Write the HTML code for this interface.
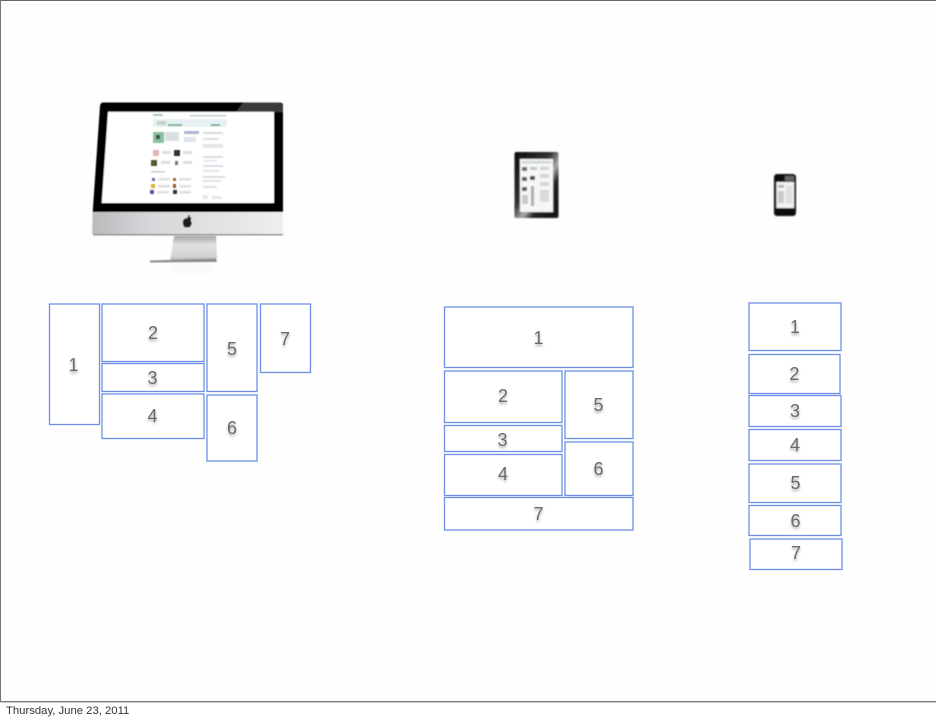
<!DOCTYPE html>
<html>
<head>
<meta charset="utf-8">
<style>
html,body{margin:0;padding:0;background:#fff}
body{width:936px;height:720px;overflow:hidden;position:relative}
svg{position:absolute;left:0;top:0}
.n{font-family:"Liberation Sans",sans-serif;font-size:18px;fill:#6a6a6a;text-anchor:middle}
.f{font-family:"Liberation Sans",sans-serif;font-size:11.3px;fill:#333}
.b rect{fill:#fff;stroke:#6f8fe6;stroke-width:1.3}
</style>
</head>
<body>
<svg width="936" height="720" viewBox="0 0 936 720" xmlns="http://www.w3.org/2000/svg">
<defs>
<filter id="b1" x="-10%" y="-10%" width="120%" height="120%"><feGaussianBlur stdDeviation="0.45"/></filter>
<filter id="b3" x="-10%" y="-10%" width="120%" height="120%"><feGaussianBlur stdDeviation="0.6"/></filter>
<filter id="b2" x="-20%" y="-20%" width="140%" height="140%"><feGaussianBlur stdDeviation="0.7"/></filter>
<filter id="ts" x="-50%" y="-50%" width="200%" height="200%"><feDropShadow dx="0" dy="2" stdDeviation="1.2" flood-color="#000" flood-opacity="0.35"/></filter>
<linearGradient id="silver" x1="0" y1="0" x2="1" y2="0"><stop offset="0" stop-color="#b9babc"/><stop offset=".3" stop-color="#d6d7d9"/><stop offset=".7" stop-color="#e4e4e6"/><stop offset="1" stop-color="#efeff0"/></linearGradient>
<linearGradient id="stand" x1="0" y1="0" x2="0" y2="1"><stop offset="0" stop-color="#a5a6a8"/><stop offset=".35" stop-color="#e2e2e4"/><stop offset=".8" stop-color="#d2d2d4"/><stop offset="1" stop-color="#a0a0a2"/></linearGradient>
<linearGradient id="tab" x1="0" y1="0" x2="1" y2="1"><stop offset="0" stop-color="#0a0a0a"/><stop offset=".42" stop-color="#333"/><stop offset=".58" stop-color="#aaa"/><stop offset=".7" stop-color="#222"/><stop offset="1" stop-color="#111"/></linearGradient>
</defs>

<rect width="936" height="720" fill="#fff"/>
<rect x="0" y="0" width="936" height="702" fill="#fefefe"/>
<rect x="0" y="0" width="936" height="1" fill="#666"/>
<rect x="0" y="0" width="1" height="702" fill="#777"/>
<rect x="0" y="701" width="936" height="1.4" fill="#7d7d7d"/>
<text class="f" x="6" y="714">Thursday, June 23, 2011</text>

<!-- iMac -->
<g filter="url(#b1)">
<polygon points="174,236 216,236 217,258 214,262 170,262" fill="url(#stand)"/>
<polygon points="150,260.5 216,258.5 217,262 150,262.5" fill="#8d8e90"/>
<polygon points="170,263 214,263 212,274 174,274" fill="#fafafa"/>
<path d="M103,102.5 H280 Q283,102.5 283,106 V212 H92.7 L100,106 Q100.5,102.5 103,102.5 Z" fill="#060606"/>
<polygon points="243,102.5 280,102.5 283,106 283,112 236,112" fill="#3a3a3a"/>
<polygon points="108,111.7 274,111.7 274,203 101.7,203" fill="#fff"/>
<path d="M92.7,212 H283 V232 Q283,235 280,235 H95 Q92,235 92.2,232 Z" fill="url(#silver)"/>
<rect x="93" y="234" width="190" height="1.4" fill="#8a8a8c"/>
<path d="M187.5,218 C189,216.5 190,217 191.5,217.5 C190.7,219 190.5,221.5 192,223 C191.5,225 190,227.5 188.5,227.5 C187.5,227.5 186.5,227 185.5,227.5 C184,227.5 182.8,224.5 182.8,222.5 C182.8,219 185.5,218 187.5,218 Z M187.5,217.6 C187.5,216 188.5,215 190,214.7 C190,216.3 189,217.4 187.5,217.6 Z" fill="#1b1b1b"/>
</g>
<!-- iMac screen page -->
<g filter="url(#b3)">
<rect x="153" y="114" width="10" height="2" fill="#a9c7b2"/>
<rect x="190" y="115" width="36" height="1.5" fill="#c0c8cc"/>
<rect x="153" y="119" width="74" height="8" fill="#e6eff3"/>
<rect x="157" y="121" width="9" height="4" fill="#c4d4c9"/>
<rect x="168" y="124" width="14" height="2" fill="#7fb093"/>
<rect x="211" y="124" width="9" height="2" fill="#7fb093"/>
<rect x="153" y="132" width="11" height="11" fill="#8abf9f"/>
<rect x="156" y="135" width="4" height="4" fill="#2d4f3a"/>
<rect x="165" y="132" width="14" height="9" fill="#dcdfe2"/>
<rect x="184" y="131" width="15" height="3" fill="#a9b6d0"/>
<rect x="184" y="137" width="12" height="5" fill="#dfe4ee"/>
<rect x="203" y="132" width="20" height="2" fill="#d6d8db"/>
<rect x="203" y="138" width="16" height="2" fill="#dcdee1"/>
<rect x="203" y="144" width="20" height="4" fill="#e4e6e8"/>
<rect x="153" y="150" width="6" height="6" fill="#e0b5b5"/>
<rect x="174" y="150" width="6" height="6" fill="#333"/>
<rect x="162" y="151" width="9" height="3" fill="#dedede"/>
<rect x="183" y="151" width="9" height="3" fill="#dedede"/>
<rect x="151" y="160" width="6" height="6" fill="#555a30"/>
<rect x="175" y="161" width="3" height="4" fill="#777"/>
<rect x="161" y="161" width="9" height="3" fill="#dedede"/>
<rect x="183" y="161" width="9" height="3" fill="#dedede"/>
<rect x="203" y="156" width="20" height="2" fill="#d9dbde"/>
<rect x="203" y="160" width="14" height="1.5" fill="#dfe1e4"/>
<rect x="203" y="165" width="20" height="2" fill="#d9dde4"/>
<rect x="203" y="170" width="16" height="2" fill="#dfe2e8"/>
<rect x="203" y="176" width="22" height="2" fill="#d9dbde"/>
<rect x="203" y="180" width="18" height="2" fill="#dfe1e4"/>
<rect x="203" y="186" width="14" height="2" fill="#dcdee1"/>
<rect x="151" y="171" width="14" height="1.5" fill="#ccc"/>
<rect x="152" y="178" width="3" height="3" fill="#7c5cac"/>
<rect x="173" y="178" width="3" height="3" fill="#9a6a30"/>
<rect x="158" y="178" width="12" height="2.5" fill="#e0e0e0"/>
<rect x="179" y="178" width="12" height="2.5" fill="#e0e0e0"/>
<rect x="151" y="184" width="4" height="4" fill="#dcb030"/>
<rect x="173" y="184" width="3" height="4" fill="#8a5a30"/>
<rect x="158" y="185" width="12" height="2.5" fill="#e0e0e0"/>
<rect x="179" y="185" width="12" height="2.5" fill="#e0e0e0"/>
<rect x="150" y="190" width="4" height="4" fill="#5a4f9c"/>
<rect x="173" y="190" width="4" height="4" fill="#333"/>
<rect x="157" y="191" width="12" height="2.5" fill="#e0e0e0"/>
<rect x="179" y="191" width="12" height="2.5" fill="#e0e0e0"/>
<rect x="203" y="195" width="5" height="4" fill="#e4e6ee"/>
<rect x="212" y="196" width="10" height="3" fill="#e4e6ee"/>
</g>

<!-- Tablet -->
<g filter="url(#b2)">
<rect x="514.5" y="152" width="44" height="66" rx="2" fill="url(#tab)"/>
<rect x="520" y="159" width="33" height="53" fill="#f6f6f6"/>
<rect x="522" y="161" width="29" height="2.5" fill="#ccd6d4"/>
<rect x="522" y="167" width="5" height="4" fill="#667"/>
<rect x="530" y="167" width="7" height="3" fill="#c4c4c4"/>
<rect x="522" y="177" width="5" height="4" fill="#555"/>
<rect x="530" y="176" width="5" height="4" fill="#444"/>
<rect x="522" y="187" width="5" height="4" fill="#555"/>
<rect x="531" y="186" width="3" height="20" fill="#aaa"/>
<rect x="522" y="195" width="6" height="9" fill="#c8c8c8"/>
<rect x="540" y="167" width="9" height="3" fill="#d0d0d0"/>
<rect x="540" y="174" width="9" height="4" fill="#d6d6d6"/>
<rect x="540" y="182" width="9" height="4" fill="#d6d6d6"/>
<rect x="540" y="190" width="9" height="12" fill="#dadada"/>
</g>

<!-- Phone -->
<g filter="url(#b2)">
<rect x="774" y="174" width="22" height="42" rx="3" fill="#111"/>
<rect x="776.5" y="182" width="17.5" height="26" fill="#f2f2f2"/>
<rect x="778" y="185" width="6" height="2.5" fill="#aaa"/>
<rect x="778" y="191" width="6" height="12" fill="#cacaca"/>
<rect x="786" y="186" width="6" height="18" fill="#dedede"/>
<rect x="785" y="176" width="9" height="5" fill="#666"/>
</g>

<!-- Desktop blocks -->
<g class="b">
<rect x="49.5" y="304" width="50" height="120.5"/>
<rect x="102" y="304" width="102" height="57.5"/>
<rect x="102" y="363.5" width="102" height="28"/>
<rect x="102" y="394" width="102" height="44.5"/>
<rect x="207" y="304" width="50" height="87.5"/>
<rect x="207" y="395" width="50" height="66"/>
<rect x="260.5" y="304" width="50" height="68.5"/>
<!-- Tablet blocks -->
<rect x="444.5" y="307" width="188.5" height="60.5"/>
<rect x="444.5" y="371" width="117.5" height="51.5"/>
<rect x="444.5" y="425.5" width="117.5" height="26"/>
<rect x="444.5" y="454.5" width="117.5" height="41"/>
<rect x="565" y="371" width="68" height="67.5"/>
<rect x="565" y="442" width="68" height="53.5"/>
<rect x="444.5" y="497.5" width="188.5" height="32.5"/>
<!-- Phone blocks -->
<rect x="749" y="303" width="92" height="47.5"/>
<rect x="749" y="354.5" width="91" height="39"/>
<rect x="749" y="395.5" width="92" height="31"/>
<rect x="749" y="429.5" width="92" height="31"/>
<rect x="749" y="464" width="92" height="38.5"/>
<rect x="749" y="505.5" width="92" height="30"/>
<rect x="750" y="539" width="92" height="30.5"/>
</g>

<g filter="url(#ts)">
<text class="n" x="73.5" y="371">1</text>
<text class="n" x="153" y="339">2</text>
<text class="n" x="152.5" y="384">3</text>
<text class="n" x="152.5" y="422">4</text>
<text class="n" x="232" y="355">5</text>
<text class="n" x="232" y="434">6</text>
<text class="n" x="285" y="345">7</text>

<text class="n" x="538.5" y="344">1</text>
<text class="n" x="503" y="402">2</text>
<text class="n" x="502.5" y="446">3</text>
<text class="n" x="503" y="480">4</text>
<text class="n" x="598.5" y="411">5</text>
<text class="n" x="598.5" y="475">6</text>
<text class="n" x="538.5" y="520">7</text>

<text class="n" x="795" y="333">1</text>
<text class="n" x="794.5" y="380">2</text>
<text class="n" x="795" y="417">3</text>
<text class="n" x="795" y="451">4</text>
<text class="n" x="795.5" y="489">5</text>
<text class="n" x="795.5" y="527">6</text>
<text class="n" x="796" y="559">7</text>
</g>
</svg>
</body>
</html>
